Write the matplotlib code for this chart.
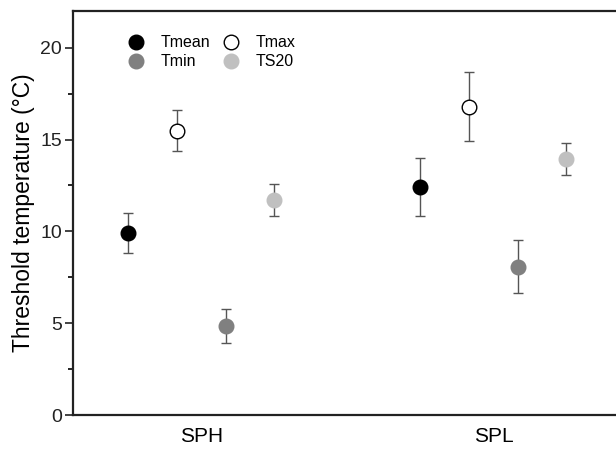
import matplotlib
matplotlib.use("Agg")
import matplotlib.pyplot as plt
import numpy as np

plt.rcParams['font.family'] = ['Liberation Sans', 'DejaVu Sans']

sites = ["SPH", "SPL"]
series = ["Tmean", "Tmax", "Tmin", "TS20"]
means = {
    "Tmean": [9.9, 12.42],
    "Tmax": [15.47, 16.78],
    "Tmin": [4.85, 8.08],
    "TS20": [11.72, 13.93],
}
errors = {
    "Tmean": [1.08, 1.6],
    "Tmax": [1.12, 1.88],
    "Tmin": [0.92, 1.45],
    "TS20": [0.86, 0.88],
}
face = {"Tmean": "black", "Tmax": "white", "Tmin": "#808080", "TS20": "#c0c0c0"}
edge = {"Tmean": "black", "Tmax": "black", "Tmin": "#808080", "TS20": "#c0c0c0"}
offsets = [-0.25, -0.0833, 0.0833, 0.25]

fig = plt.figure(figsize=(6.16, 4.51), dpi=100)
ax = fig.add_axes([73/616, 36/451, 1 - 73/616, 404/451])

x = np.arange(1, len(sites) + 1)
handles = {}
for s, off in zip(series, offsets):
    ax.errorbar(x + off, means[s], yerr=errors[s], fmt='none', ecolor='#555555',
                elinewidth=1.0, capsize=3.5, capthick=1.0, zorder=2)
    h, = ax.plot(x + off, means[s], 'o', ms=10.5, mfc=face[s], mec=edge[s],
                 mew=1.0, linestyle='none', zorder=3)
    handles[s] = h

ax.set_xlim(0.56, 2.42)
ax.set_ylim(0, 22)
ax.set_xticks(x)
ax.set_xticklabels(sites, fontsize=15)
ax.set_yticks([0, 5, 10, 15, 20])
ax.set_yticks([2.5, 7.5, 12.5, 17.5], minor=True)
ax.tick_params(axis='y', which='major', direction='out', length=6, width=1.2,
               labelsize=14, pad=2, colors='#222222')
ax.tick_params(axis='y', which='minor', direction='out', length=3.5, width=1.2)
ax.tick_params(axis='x', which='both', length=0, pad=9)
ax.set_ylabel("Threshold temperature (°C)", fontsize=16.5, labelpad=4)

for sp in ['left', 'top', 'bottom']:
    ax.spines[sp].set_linewidth(1.6)
    ax.spines[sp].set_color('#222222')
ax.spines['right'].set_visible(False)

leg = ax.legend([handles["Tmean"], handles["Tmin"], handles["Tmax"], handles["TS20"]],
                ["Tmean", "Tmin", "Tmax", "TS20"], ncol=2, frameon=False,
                loc='upper left', bbox_to_anchor=(0.072, 0.975), fontsize=11.5,
                handletextpad=0.95, columnspacing=0.7, labelspacing=0.25,
                handlelength=1.2, markerscale=1.0)

fig.savefig("out.png", dpi=100)
